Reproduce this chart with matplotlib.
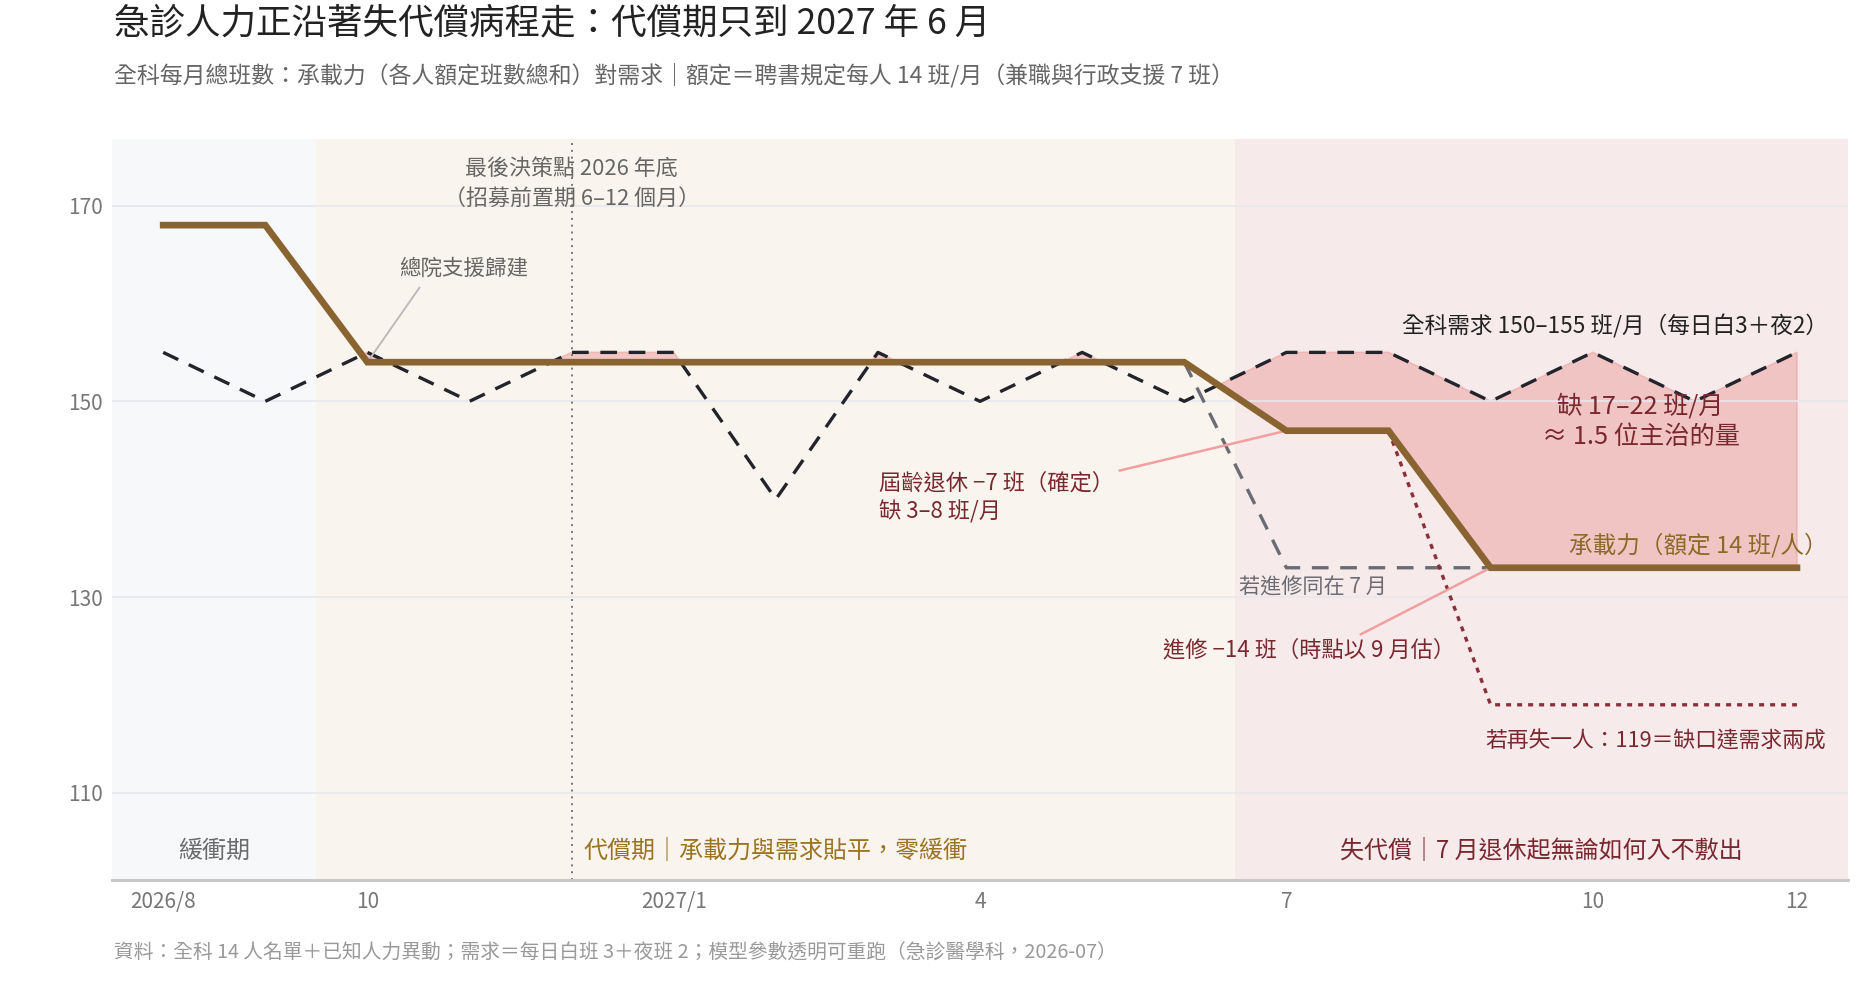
import numpy as np
import matplotlib
matplotlib.use('Agg')
import matplotlib.pyplot as plt

plt.rcParams['font.family'] = ['Noto Sans CJK TC', 'DejaVu Sans']

# monthly total shifts, 2026/8 .. 2027/12
months = ['2026/8', '9', '10', '11', '12', '2027/1', '2', '3', '4', '5', '6',
          '7', '8', '9', '10', '11', '12']
capacity = [168, 168, 154, 154, 154, 154, 154, 154, 154, 154, 154,
            147, 147, 133, 133, 133, 133]
demand = [155, 150, 155, 150, 155, 155, 140, 155, 150, 155, 150,
          155, 155, 150, 155, 150, 155]
nan = np.nan
study_same_july = [nan] * 10 + [154, 133, 133, 133] + [nan] * 3
lose_one_more = [nan] * 12 + [147, 119, 119, 119, 119]

tick_idx = [0, 2, 5, 8, 11, 14, 16]
y_ticks = [110, 130, 150, 170]
decision_month = 4  # 2026/12

phase_edges = [-0.5, 1.5, 10.5, 16.5]
phase_labels = ['緩衝期', '代償期｜承載力與需求貼平，零緩衝', '失代償｜7 月退休起無論如何入不敷出']
phase_bg = ['#f7f8fa', '#f9f4ee', '#f7eaea']
phase_fg = ['#6b6b6b', '#9a7420', '#7a2830']

x = np.arange(len(months))
cap = np.array(capacity)
dem = np.array(demand)

fig = plt.figure(figsize=(18.75, 9.9), dpi=100)
ax = fig.add_axes([0.0598, 0.1111, 0.9258, 0.7485])

for i, lab in enumerate(phase_labels):
    ax.axvspan(phase_edges[i], phase_edges[i + 1], color=phase_bg[i], lw=0, zorder=0)
    ax.text((phase_edges[i] + phase_edges[i + 1]) / 2, 104.1, lab, ha='center', va='center',
            fontsize=17.3, color=phase_fg[i])

ax.fill_between(x, dem, cap, where=dem > cap, interpolate=True,
                facecolor='#eeb0b0', edgecolor='#eca6a6', alpha=0.65, lw=1.2, zorder=1)

ax.axvline(decision_month, color='#777777', lw=1.4, ls=(0, (1, 2.5)), zorder=2)

ax.plot(x, study_same_july, color='#6b6b73', lw=2.4, dashes=(5, 3.5), zorder=2.5)
ax.plot(x, lose_one_more, color='#8a3038', lw=2.4, dashes=(1.5, 1.8), zorder=2.5)
ax.plot(x, dem, color='#22232b', lw=2.4, dashes=(5, 3.5), zorder=3)
ax.plot(x, cap, color='#8a6430', lw=4.8, solid_joinstyle='miter', zorder=4)

# annotations
ax.text(decision_month, 172.2, '最後決策點 2026 年底\n（招募前置期 6–12 個月）',
        ha='center', va='center', fontsize=15.8, color='#666666', linespacing=1.4)

ax.annotate('總院支援歸建', xy=(2, capacity[2]), xytext=(2.94, 163.5),
            ha='center', va='center', fontsize=15.5, color='#666666',
            arrowprops=dict(arrowstyle='-', color='#bbbbbb', lw=1.4,
                            shrinkA=4, shrinkB=0, relpos=(0.2, 0.0)))

ax.annotate('屆齡退休 −7 班（確定）\n缺 3–8 班/月', xy=(11, capacity[11]), xytext=(7.01, 140.15),
            ha='left', va='center', fontsize=16, color='#7a2830', linespacing=1.3,
            arrowprops=dict(arrowstyle='-', color='#f0a0a0', lw=1.8,
                            shrinkA=2, shrinkB=0, relpos=(1.0, 1.0)))

ax.annotate('進修 −14 班（時點以 9 月估）', xy=(13, capacity[13]), xytext=(9.79, 124.6),
            ha='left', va='center', fontsize=16, color='#7a2830',
            arrowprops=dict(arrowstyle='-', color='#f0a0a0', lw=1.8,
                            shrinkA=2, shrinkB=0, relpos=(0.65, 1.0)))

ax.text(16.3, 157.65, '全科需求 150–155 班/月（每日白3＋夜2）', ha='right', va='center',
        fontsize=16.3, color='#222222')
ax.text(14.47, 147.9, '缺 17–22 班/月\n≈ 1.5 位主治的量', ha='center', va='center',
        fontsize=18.2, color='#7a2830', linespacing=1.2)
ax.text(16.3, 135.3, '承載力（額定 14 班/人）', ha='right', va='center',
        fontsize=17, color='#8b6a28')
ax.text(10.54, 131.0, '若進修同在 7 月', ha='left', va='center',
        fontsize=15.2, color='#6b6b73')
ax.text(12.95, 115.2, '若再失一人：119＝缺口達需求兩成', ha='left', va='center',
        fontsize=15.7, color='#7a2830')

ax.set_xlim(-0.5, 16.5)
ax.set_ylim(101.1, 176.8)
ax.set_xticks(tick_idx)
ax.set_xticklabels([months[i] for i in tick_idx])
ax.set_yticks(y_ticks)
ax.tick_params(axis='both', length=0, labelsize=15, labelcolor='#777777')
ax.tick_params(axis='x', pad=8)
ax.tick_params(axis='y', pad=7)
ax.yaxis.grid(True, color='#e6e8ee', lw=1.2)
for s in ['top', 'right', 'left']:
    ax.spines[s].set_visible(False)
ax.spines['bottom'].set_color('#c8c8cc')
ax.spines['bottom'].set_linewidth(2.2)

fig.text(0.0606, 0.976, '急診人力正沿著失代償病程走：代償期只到 2027 年 6 月',
         ha='left', va='center', fontsize=25.6, color='#222222')
fig.text(0.0606, 0.924, '全科每月總班數：承載力（各人額定班數總和）對需求｜額定＝聘書規定每人 14 班/月（兼職與行政支援 7 班）',
         ha='left', va='center', fontsize=16.5, color='#666666')
fig.text(0.0606, 0.037, '資料：全科 14 人名單＋已知人力異動；需求＝每日白班 3＋夜班 2；模型參數透明可重跑（急診醫學科，2026-07）',
         ha='left', va='center', fontsize=14.2, color='#999999')

fig.savefig('out.png', dpi=100)
